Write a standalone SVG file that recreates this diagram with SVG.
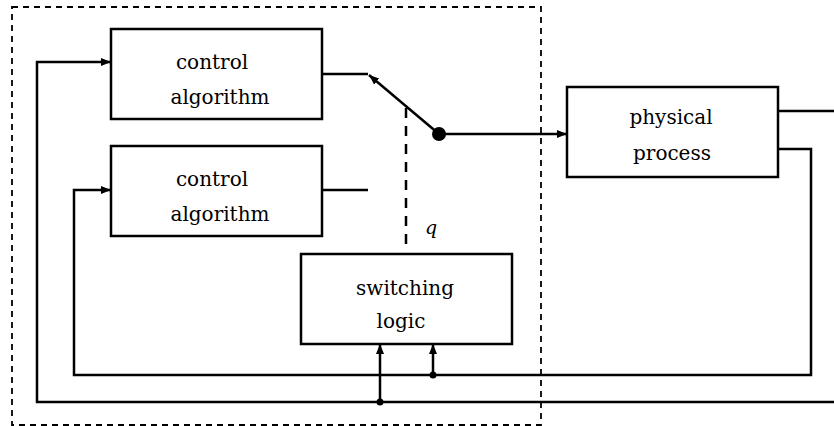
<svg xmlns="http://www.w3.org/2000/svg" width="834" height="426" viewBox="0 0 834 426">
<defs>
<marker id="ah" viewBox="0 0 10 10" refX="10" refY="5" markerWidth="10" markerHeight="10" markerUnits="userSpaceOnUse" orient="auto">
<path d="M0,1 L10,5 L0,9 Z" fill="#000"/>
</marker>
</defs>
<style>
.box{fill:#fff;stroke:#000;stroke-width:2.5}
.ln{fill:none;stroke:#000;stroke-width:2.5}
.lbl{font-family:"DejaVu Serif","Liberation Serif",serif;font-size:20px;text-anchor:middle;fill:#000}
</style>
<rect x="12" y="7" width="529" height="418" fill="none" stroke="#000" stroke-width="1.8" stroke-dasharray="6,5"/>
<g id="connectors">
<path class="ln" d="M322,74 H368"/>
<path class="ln" d="M322,190 H368"/>
<path class="ln" d="M439,134 L369,75" marker-end="url(#ah)"/>
<path class="ln" d="M439,134 H567" marker-end="url(#ah)"/>
<path class="ln" d="M406,108 V252" stroke-dasharray="10,8"/>
<path class="ln" d="M778,111 H834"/>
<path class="ln" d="M778,149 H811 V375 H74 V190 H111" marker-end="url(#ah)"/>
<path class="ln" d="M834,402 H37 V62 H111" marker-end="url(#ah)"/>
<path class="ln" d="M380,402 V344" marker-end="url(#ah)"/>
<path class="ln" d="M433,375 V344" marker-end="url(#ah)"/>
<circle cx="439" cy="134" r="7" fill="#000"/>
<circle cx="380" cy="402" r="3.5" fill="#000"/>
<circle cx="433" cy="375" r="3.5" fill="#000"/>
<text x="425" y="234" font-family="DejaVu Serif,serif" font-style="italic" font-size="19">q</text>
</g>
<g id="ctrl1">
<rect class="box" x="111" y="29" width="211" height="90"/>
<text class="lbl" x="212" y="69">control</text>
<text class="lbl" x="220" y="104">algorithm</text>
</g>
<g id="ctrl2">
<rect class="box" x="111" y="146" width="211" height="90"/>
<text class="lbl" x="212" y="186">control</text>
<text class="lbl" x="220" y="221">algorithm</text>
</g>
<g id="plant">
<rect class="box" x="567" y="87" width="211" height="90"/>
<text class="lbl" x="671" y="124">physical</text>
<text class="lbl" x="672" y="160">process</text>
</g>
<g id="switching">
<rect class="box" x="301" y="254" width="211" height="90"/>
<text class="lbl" x="405" y="295">switching</text>
<text class="lbl" x="401" y="328">logic</text>
</g>
</svg>
